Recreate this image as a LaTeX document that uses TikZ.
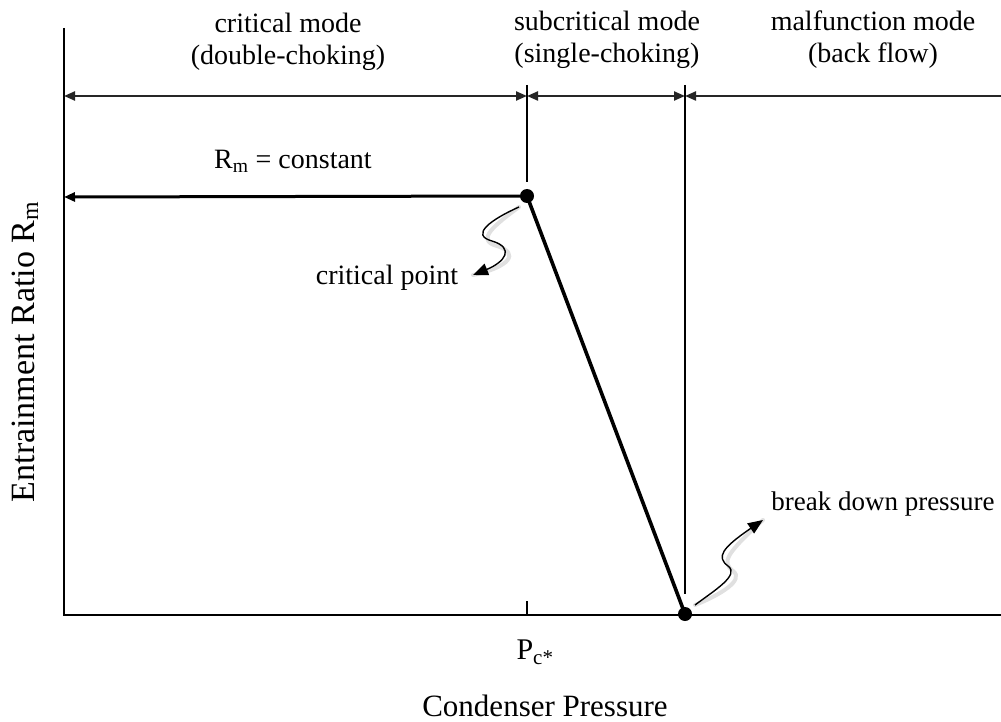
\documentclass[tikz,border=0pt]{standalone}
\usepackage{fontspec}
\setmainfont{Liberation Serif}
\usetikzlibrary{arrows.meta}
\tikzset{
  axis/.style={line width=2pt, black},
  dimline/.style={line width=2.2pt, black!85},
  guide/.style={line width=1.6pt, black},
  curve/.style={line width=3pt, black},
  dot/.style={circle, fill=black, inner sep=0pt, minimum size=14pt},
  tips/.style={{Triangle[length=11pt,width=9pt]}-{Triangle[length=11pt,width=9pt]}},
  squig/.style={line width=1.4pt, -{Triangle[length=15pt,width=12pt]}},
  shad/.style={line width=4pt, black!20, opacity=0.6, line cap=round},
  lbl/.style={align=center, inner sep=0pt, font=\fontsize{28}{32}\selectfont},
}
\begin{document}
\begin{tikzpicture}[x=1pt,y=-1pt]
\useasboundingbox (0,0) rectangle (1001,722);
% axes
\coordinate (yt) at (64,28);
\coordinate (o) at (64,615);
\coordinate (xr) at (1001,615);
\draw[axis] (yt) -- (o) -- (xr);
% points
\node[dot] (cp) at (527,196) {};
\node[dot] (bd) at (685,614) {};
% top dimension line
\coordinate (d0) at (64,96);
\coordinate (d1) at (527,96);
\coordinate (d2) at (685,96);
\coordinate (d3) at (1001,96);
\draw[dimline,tips] (d0) -- (d1);
\draw[dimline,tips] (d1) -- (d2);
\draw[dimline,{Triangle[length=11pt,width=9pt]}-] (d2) -- (d3);
% vertical guides
\coordinate (v1t) at (527,85);
\coordinate (v1b) at (527,182);
\coordinate (v2t) at (685,85);
\coordinate (v2b) at (685,594);
\draw[guide] (v1t) -- (v1b);
\draw[guide] (v2t) -- (v2b);
% tick
\coordinate (tk) at (527,601);
\coordinate (tb) at (527,615);
\draw[guide] (tk) -- (tb);
% Rm constant line
\coordinate (rl) at (64,197);
\draw[curve,-{Triangle[length=11pt,width=9pt]}] (cp.center) -- (rl);
% diagonal
\draw[line width=3.6pt] (cp.center) -- (bd.center);
% labels
\node[lbl] (m1) at (288,42) {critical mode\\(double-choking)};
\node[lbl] (m2) at (607,40) {subcritical mode\\(single-choking)};
\node[lbl] (m3) at (873,40) {malfunction mode\\(back flow)};
\node[lbl] (rc) at (293,161) {R\textsubscript{m} = constant};
\node[lbl] (cpl) at (387,278) {critical point};
\node[lbl, font=\fontsize{27}{32}\selectfont] (bdl) at (883,504) {break down pressure};
\node[lbl, font=\fontsize{30}{36}\selectfont] (pc) at (535,652) {P\textsubscript{c*}};
\node[lbl, font=\fontsize{31}{36}\selectfont] (xl) at (545,706) {Condenser Pressure};
\node[lbl, font=\fontsize{34}{38}\selectfont, rotate=90] (yl) at (25,352) {Entrainment Ratio R\textsubscript{m}};
% squiggle arrows with soft shadow
\coordinate (c1s) at (519,207);
\coordinate (c1e) at (473,275);
\coordinate (c2s) at (695,605);
\coordinate (c2e) at (763,520);
\draw[shad, xshift=5pt, yshift=-5pt] (c1s) .. controls (490,220) and (470,235) .. (492,241) .. controls (515,248) and (505,262) .. (c1e);
\draw[shad, xshift=5pt, yshift=-5pt] (c2s) .. controls (715,590) and (740,575) .. (728,566) .. controls (716,557) and (722,548) .. (c2e);
\draw[squig] (c1s) .. controls (490,220) and (470,235) .. (492,241) .. controls (515,248) and (505,262) .. (c1e);
\draw[squig] (c2s) .. controls (715,590) and (740,575) .. (728,566) .. controls (716,557) and (722,548) .. (c2e);
\end{tikzpicture}
\end{document}
